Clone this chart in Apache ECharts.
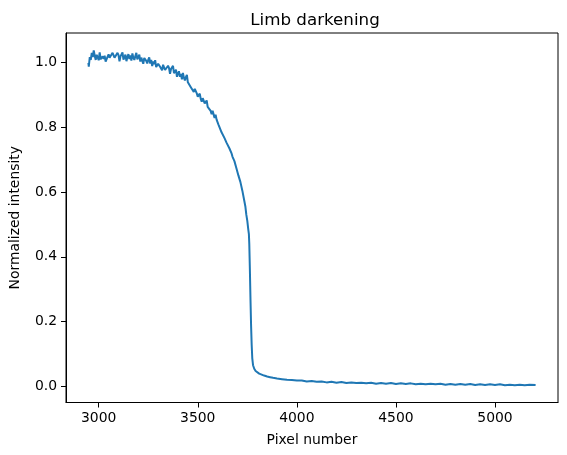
<!DOCTYPE html>
<html>
<head>
<meta charset="utf-8">
<script src="https://cdn.jsdelivr.net/npm/echarts@6/dist/echarts.min.js"></script>
<style>
    html, body { margin: 0; padding: 0; background: #fff; }
    #main { width: 567px; height: 455px; }
</style>
</head>
<body>
<div id="main"></div>
<script>
// pixel positions along the scan
var pixel = [
    2948, 2950, 2955, 2960, 2965, 2970, 2975, 2980, 2985, 2990,
    2995, 3000, 3005, 3010, 3015, 3020, 3025, 3030, 3035, 3040,
    3045, 3050, 3055, 3060, 3065, 3070, 3075, 3080, 3085, 3090,
    3095, 3100, 3105, 3110, 3115, 3120, 3125, 3130, 3135, 3140,
    3145, 3150, 3155, 3160, 3165, 3170, 3175, 3180, 3185, 3190,
    3195, 3200, 3205, 3210, 3215, 3220, 3225, 3230, 3235, 3240,
    3245, 3250, 3255, 3260, 3265, 3270, 3275, 3280, 3285, 3290,
    3295, 3300, 3305, 3310, 3315, 3320, 3325, 3330, 3335, 3340,
    3345, 3350, 3355, 3360, 3365, 3370, 3375, 3380, 3385, 3390,
    3395, 3400, 3405, 3410, 3415, 3420, 3425, 3430, 3435, 3440,
    3445, 3450, 3455, 3460, 3465, 3470, 3475, 3480, 3485, 3490,
    3495, 3500, 3505, 3510, 3515, 3520, 3525, 3530, 3535, 3540,
    3545, 3550, 3555, 3560, 3565, 3570, 3575, 3580, 3585, 3590,
    3595, 3600, 3605, 3610, 3615, 3620, 3625, 3630, 3635, 3640,
    3645, 3650, 3655, 3660, 3665, 3670, 3675, 3680, 3685, 3690,
    3695, 3700, 3705, 3710, 3715, 3720, 3725, 3730, 3735, 3740,
    3745, 3750, 3755, 3758,
    3760, 3763, 3766, 3769, 3772, 3775, 3779, 3785, 3792, 3800,
    3810, 3820, 3835, 3850, 3865, 3880, 3900, 3925, 3950, 3975,
    4000, 4025, 4050, 4075, 4100, 4125, 4150, 4175, 4200, 4225,
    4250, 4275, 4300, 4325, 4350, 4375, 4400, 4425, 4450, 4475,
    4500, 4525, 4550, 4575, 4600, 4625, 4650, 4675, 4700, 4725,
    4750, 4775, 4800, 4825, 4850, 4875, 4900, 4925, 4950, 4975,
    5000, 5025, 5050, 5075, 5100, 5125, 5150, 5175, 5205
];
// normalized intensity
var intensity = [
    0.998, 0.986, 1.016, 1.007, 1.029, 1.016, 1.036, 1.020, 1.007, 1.023,
    1.017, 1.006, 1.030, 1.009, 1.003, 1.018, 1.010, 1.020, 1.002, 0.998,
    1.017, 1.024, 1.014, 1.020, 1.009, 1.029, 1.034, 1.014, 1.020, 1.010,
    1.029, 1.022, 1.003, 1.018, 1.013, 1.030, 1.008, 1.011, 1.023, 1.003,
    1.016, 1.025, 1.010, 1.021, 1.005, 1.027, 1.014, 1.007, 1.019, 1.029,
    1.009, 1.012, 1.023, 1.002, 1.014, 1.018, 0.995, 1.013, 1.018, 1.004,
    0.996, 1.007, 1.015, 0.996, 1.007, 0.988, 1.002, 0.994, 1.006, 0.985,
    0.979, 0.995, 0.999, 0.986, 0.990, 0.975, 0.992, 0.996, 0.976, 0.980,
    0.970, 0.989, 0.982, 0.964, 0.979, 0.973, 0.989, 0.966, 0.967, 0.977,
    0.955, 0.965, 0.972, 0.955, 0.964, 0.947, 0.967, 0.952, 0.944, 0.954,
    0.961, 0.938, 0.937, 0.943, 0.923, 0.929, 0.929, 0.908, 0.918, 0.919,
    0.904, 0.894, 0.899, 0.903, 0.887, 0.878, 0.889, 0.889, 0.873, 0.873,
    0.882, 0.862, 0.864, 0.867, 0.850, 0.840, 0.850, 0.844, 0.828, 0.838,
    0.823, 0.828, 0.807, 0.805, 0.806, 0.784, 0.789, 0.787, 0.766, 0.767,
    0.752, 0.757, 0.748, 0.734, 0.736, 0.720, 0.709, 0.710, 0.695, 0.692,
    0.673, 0.668, 0.651, 0.649, 0.631, 0.626, 0.604, 0.599, 0.572, 0.556,
    0.530, 0.511, 0.484, 0.470,
    0.440, 0.360, 0.270, 0.190, 0.130, 0.088, 0.066, 0.055, 0.048, 0.044,
    0.040, 0.038, 0.034, 0.031, 0.029, 0.027, 0.025, 0.023, 0.021, 0.020,
    0.0185, 0.019, 0.016, 0.017, 0.015, 0.016, 0.013, 0.015, 0.012, 0.014,
    0.011, 0.013, 0.011, 0.012, 0.010, 0.012, 0.009, 0.011, 0.009, 0.011,
    0.008, 0.010, 0.008, 0.010, 0.007, 0.009, 0.007, 0.009, 0.007, 0.009,
    0.006, 0.008, 0.006, 0.008, 0.006, 0.008, 0.005, 0.007, 0.005, 0.007,
    0.005, 0.007, 0.004, 0.006, 0.004, 0.006, 0.004, 0.006, 0.005
];
var xTicks = [3000, 3500, 4000, 4500, 5000];
var yTicks = [0, 0.2, 0.4, 0.6, 0.8, 1.0];

var myChart = echarts.init(document.getElementById('main'));
var points = [];
for (var i = 0; i < pixel.length; i++) {
    points.push([pixel[i], intensity[i]]);
}
var font = 'DejaVu Sans';

option = {
    animation: false,
    backgroundColor: '#fff',
    title: {
        text: 'Limb darkening',
        left: 310,
        top: 7,
        textAlign: 'center',
        textStyle: {fontFamily: font, fontSize: 16.7, fontWeight: 'normal', color: '#000'}
    },
    grid: {
        left: 62, right: 9, top: 33, bottom: 52.5,
        show: true, borderColor: '#000', borderWidth: 1
    },
    xAxis: {
        type: 'value',
        min: 2835,
        max: 5318,
        name: 'Pixel number',
        nameLocation: 'middle',
        nameGap: 31,
        nameTextStyle: {fontFamily: font, fontSize: 13.9, color: '#000'},
        axisLine: {show: true, onZero: false, lineStyle: {color: '#000', width: 1}},
        axisTick: {show: true, inside: false, length: 5, customValues: xTicks, lineStyle: {color: '#000'}},
        axisLabel: {
            margin: 9, customValues: xTicks, fontFamily: font, fontSize: 13.9, color: '#000',
            formatter: function (v) { return String(v); }
        },
        splitLine: {show: false}
    },
    yAxis: {
        type: 'value',
        min: -0.049,
        max: 1.09,
        name: 'Normalized intensity',
        nameLocation: 'middle',
        nameGap: 44,
        nameTextStyle: {fontFamily: font, fontSize: 13.9, color: '#000'},
        axisLine: {show: true, onZero: false, lineStyle: {color: '#000', width: 1}},
        axisTick: {show: true, inside: false, length: 5, customValues: yTicks, lineStyle: {color: '#000'}},
        axisLabel: {
            margin: 9, customValues: yTicks, fontFamily: font, fontSize: 13.9, color: '#000',
            formatter: function (v) { return v.toFixed(1); }
        },
        splitLine: {show: false}
    },
    series: [{
        type: 'line',
        data: points,
        showSymbol: false,
        lineStyle: {color: '#1f77b4', width: 2},
        itemStyle: {color: '#1f77b4'}
    }]
};
myChart.setOption(option);
</script>
</body>
</html>
